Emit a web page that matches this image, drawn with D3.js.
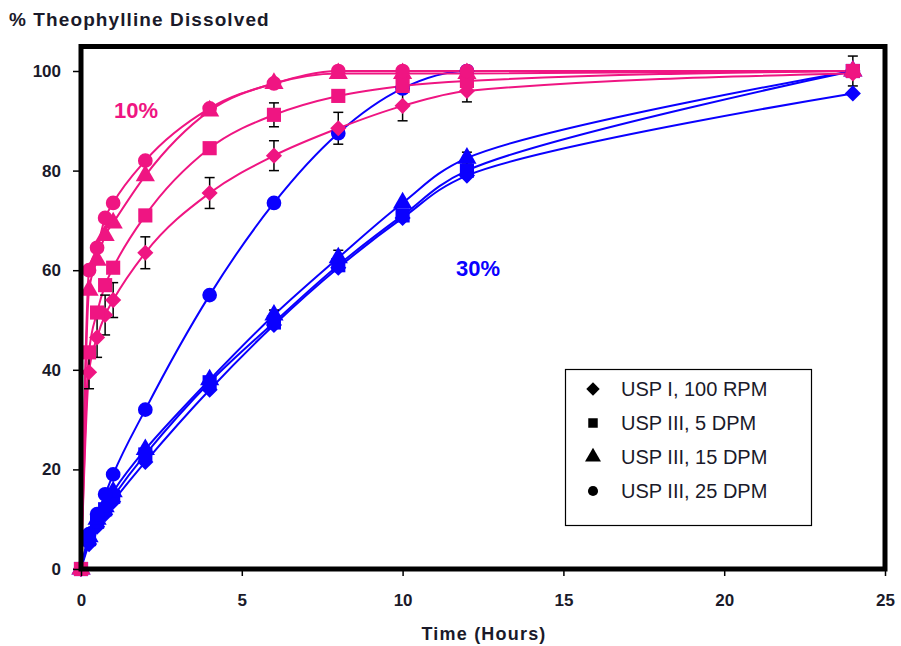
<!DOCTYPE html>
<html>
<head>
<meta charset="utf-8">
<script src="https://cdn.jsdelivr.net/npm/d3@7/dist/d3.min.js"></script>
<style>
  body { margin: 0; background: #fff; }
  svg text { font-family: "Liberation Sans", Arial, sans-serif; }
</style>
</head>
<body>
<div id="wrapper"></div>
<script>
// sampling times (hours)
var times = [0, 0.25, 0.5, 0.75, 1, 2, 4, 6, 8, 10, 12, 24];

// 10% polymer (pink)
var pinkDiamond  = [0, 39.5, 46.5, 51, 54, 63.5, 75.5, 83, 88.5, 93, 96, 99.5];
var pinkSquare   = [0, 43.5, 51.5, 57, 60.5, 71, 84.5, 91.2, 95, 97, 98, 100];
var pinkTriangle = [0, 56, 62, 67, 69.5, 79, 92, 97.5, 99.5, 99.5, 99.5, 100];
var pinkCircle   = [0, 60, 64.5, 70.5, 73.5, 82, 92.5, 97.5, 100, 100, 100, 100];

// 30% polymer (blue)
var blueDiamond  = [0, 5, 8.5, 11, 13.5, 21.5, 36, 49, 60.5, 70.5, 79, 95.5];
var blueSquare   = [0, 6, 9.5, 12, 14.5, 23, 37.5, 49.5, 61, 71, 80, 100];
var blueTriangle = [0, 6.5, 10, 12.5, 15.5, 24, 38, 51, 62.5, 73.5, 82.5, 100];
var blueCircle   = [0, 7, 11, 15, 19, 32, 55, 73.5, 87.5, 96.5, 100, 100];

// error bars (+/-), null = none
var pinkDiamondErr = [null, 3.3, 4, 4, 3.5, 3.2, 3.1, 3, 3.2, 3, 2.2, null];
var pinkSquareErr  = [null, null, null, null, null, null, null, 2.4, null, null, null, 3];
var blueTriangleErr = [null, null, null, null, null, null, null, 1, 1.5, null, 1.2, null];

var xTicks = [0, 5, 10, 15, 20, 25];
var yTicks = [0, 20, 40, 60, 80, 100];

var legendLabels = ["USP I, 100 RPM", "USP III, 5 DPM", "USP III, 15 DPM", "USP III, 25 DPM"];
var shapes = ["diamond", "square", "triangle", "circle"];

var PINK = "#ef1582", BLUE = "#0a00ff";

// flat: true -> series levels off at 100, use monotone to avoid overshoot
var series = [
  {vals: blueDiamond, color: BLUE, shape: "diamond"},
  {vals: blueSquare, color: BLUE, shape: "square"},
  {vals: blueTriangle, color: BLUE, shape: "triangle"},
  {vals: blueCircle, color: BLUE, shape: "circle", flat: true},
  {vals: pinkDiamond, color: PINK, shape: "diamond", flat: true},
  {vals: pinkSquare, color: PINK, shape: "square", flat: true},
  {vals: pinkTriangle, color: PINK, shape: "triangle", flat: true},
  {vals: pinkCircle, color: PINK, shape: "circle", flat: true}
];
var errs = [
  {vals: pinkDiamond, err: pinkDiamondErr},
  {vals: pinkSquare, err: pinkSquareErr},
  {vals: blueTriangle, err: blueTriangleErr}
];

var svg = d3.select('#wrapper').append('svg')
  .attr('width', 901).attr('height', 646);

var x = d3.scaleLinear().domain([0, 25]).range([81, 885]);
var y = d3.scaleLinear().domain([0, 100]).range([569, 71]);

// diamond = square turned 45deg
function symbolPath(shape, size) {
  var t = {diamond: d3.symbolSquare, square: d3.symbolSquare,
           triangle: d3.symbolTriangle, circle: d3.symbolCircle}[shape];
  return d3.symbol().type(t).size(size)();
}
function place(shape, px, py) {
  return 'translate(' + px + ',' + py + ')' + (shape == 'diamond' ? ' rotate(45)' : '');
}
var sizes = {diamond: 130, square: 200, triangle: 160, circle: 170};

// lines
function makeLine(flat) {
  return d3.line()
    .x(function(d) { return x(d[0]); })
    .y(function(d) { return y(d[1]); })
    .curve(flat ? d3.curveMonotoneX : d3.curveCatmullRom.alpha(0.5));
}

series.forEach(function(s) {
  svg.append('path')
    .datum(times.map(function(t, i) { return [t, s.vals[i]]; }))
    .attr('d', makeLine(s.flat))
    .attr('fill', 'none')
    .attr('stroke', s.color)
    .attr('stroke-width', 2);
});

// error bars
errs.forEach(function(e) {
  var g = svg.append('g').attr('stroke', '#000').attr('stroke-width', 1.5);
  times.forEach(function(t, i) {
    if (e.err[i] == null) return;
    var cx = x(t), top = y(e.vals[i] + e.err[i]), bot = y(e.vals[i] - e.err[i]);
    g.append('line').attr('x1', cx).attr('x2', cx).attr('y1', top).attr('y2', bot);
    g.append('line').attr('x1', cx - 5).attr('x2', cx + 5).attr('y1', top).attr('y2', top);
    g.append('line').attr('x1', cx - 5).attr('x2', cx + 5).attr('y1', bot).attr('y2', bot);
  });
});

// markers
series.forEach(function(s) {
  svg.append('g').selectAll('path')
    .data(times.map(function(t, i) { return [t, s.vals[i]]; }))
    .enter().append('path')
    .attr('d', symbolPath(s.shape, sizes[s.shape]))
    .attr('transform', function(d) { return place(s.shape, x(d[0]), y(d[1])); })
    .attr('fill', s.color);
});

// frame
svg.append('rect')
  .attr('x', x(0)).attr('y', 46.5)
  .attr('width', x(25) - x(0)).attr('height', y(0) - 46.5)
  .attr('fill', 'none').attr('stroke', '#000').attr('stroke-width', 5);

// axes
var xAxis = svg.append('g').attr('transform', 'translate(0,' + (y(0) + 2) + ')')
  .call(d3.axisBottom(x).tickValues(xTicks).tickSize(5).tickPadding(18));
var yAxis = svg.append('g').attr('transform', 'translate(' + (x(0) - 2) + ',0)')
  .call(d3.axisLeft(y).tickValues(yTicks).tickSize(6).tickPadding(12));
[xAxis, yAxis].forEach(function(a) {
  a.select('.domain').remove();
  a.selectAll('line').attr('stroke', '#000').attr('stroke-width', 1.5);
  a.selectAll('text').attr('font-size', 17).attr('font-weight', 'bold').attr('fill', '#1a1a2a');
});

// titles
svg.append('text').attr('x', 9).attr('y', 26)
  .attr('font-size', 19).attr('font-weight', 'bold').attr('fill', '#1a1a2a')
  .attr('letter-spacing', 1.1)
  .text('% Theophylline Dissolved');
svg.append('text').attr('x', 484).attr('y', 640).attr('text-anchor', 'middle')
  .attr('font-size', 18).attr('font-weight', 'bold').attr('fill', '#1a1a2a')
  .attr('letter-spacing', 1.2)
  .text('Time (Hours)');

// group labels
svg.append('text').attr('x', 114).attr('y', 118)
  .attr('font-size', 22).attr('font-weight', 'bold').attr('fill', PINK).text('10%');
svg.append('text').attr('x', 456).attr('y', 276)
  .attr('font-size', 22).attr('font-weight', 'bold').attr('fill', BLUE).text('30%');

// legend
var lg = svg.append('g');
lg.append('rect').attr('x', 565.5).attr('y', 369.5).attr('width', 246).attr('height', 156)
  .attr('fill', '#fff').attr('stroke', '#000').attr('stroke-width', 1.2);
var lsz = {diamond: 90, square: 90, triangle: 110, circle: 80};
legendLabels.forEach(function(l, i) {
  var cy = 389 + i * 34;
  lg.append('path').attr('d', symbolPath(shapes[i], lsz[shapes[i]]))
    .attr('transform', place(shapes[i], 593, cy)).attr('fill', '#000');
  lg.append('text').attr('x', 621).attr('y', cy + 7)
    .attr('font-size', 20).attr('fill', '#1a1a2a').text(l);
});
</script>
</body>
</html>
